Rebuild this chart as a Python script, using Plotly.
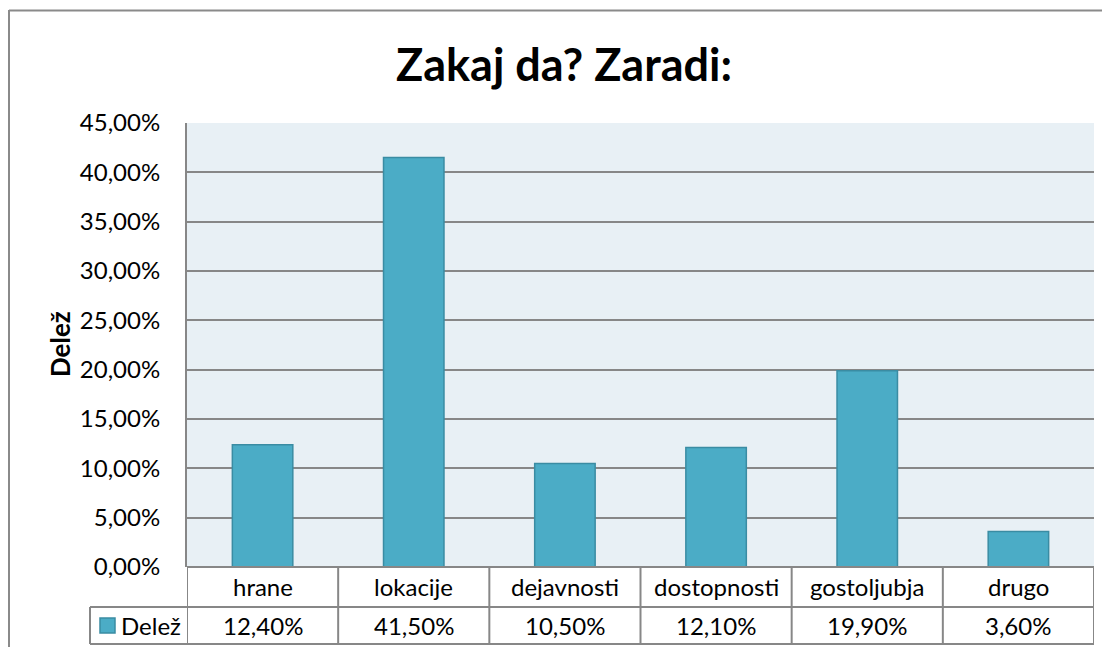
import plotly.graph_objects as go

categories = ["hrane", "lokacije", "dejavnosti", "dostopnosti", "gostoljubja", "drugo"]
values = [0.124, 0.415, 0.105, 0.121, 0.199, 0.036]
series_name = "Delež"
title_text = "Zakaj da? Zaradi:"
y_ticks = [0.0, 0.05, 0.10, 0.15, 0.20, 0.25, 0.30, 0.35, 0.40, 0.45]

FONT = "Lato"
GRID = "#878787"
BAR_FILL = "#4BACC6"
BAR_LINE = "#3A8CA3"
OFF = 8  # page body margin
W, H = 1110 - 2 * OFF, 655 - 2 * OFF
# plot area in page pixels: x 187..1094, y 123..567
L = 187 - OFF
T = 123 - OFF
R = W - (1094 - OFF)
B = H - (567 - OFF)
pw, ph = W - L - R, H - T - B

def px_x(p):  # page pixel x -> paper
    return (p - OFF - L) / pw

def px_y(p):  # page pixel y -> paper
    return (H - B - (p - OFF)) / ph

def pct(v):
    return f"{v*100:.2f}".replace(".", ",") + "%"

fig = go.Figure()
fig.add_trace(go.Bar(
    x=categories, y=values, name=series_name,
    marker=dict(color=BAR_FILL, line=dict(color=BAR_LINE, width=1.5)),
    width=0.4, showlegend=False,
))

ROW_SPLIT = 607
TABLE_BOTTOM = 644
shapes = []
n = len(categories)
# table horizontal lines
for py in (ROW_SPLIT, TABLE_BOTTOM):
    shapes.append(dict(type="line", xref="paper", yref="paper",
                       x0=px_x(90), x1=1, y0=px_y(py), y1=px_y(py),
                       line=dict(color=GRID, width=2)))
shapes.append(dict(type="line", xref="paper", yref="paper",
                   x0=0, x1=1, y0=0, y1=0, line=dict(color=GRID, width=2)))
# table vertical lines
for i in range(n + 1):
    shapes.append(dict(type="line", xref="x", yref="paper",
                       x0=i - 0.5, x1=i - 0.5, y0=0, y1=px_y(TABLE_BOTTOM),
                       line=dict(color=GRID, width=2)))
shapes.append(dict(type="line", xref="paper", yref="paper",
                   x0=px_x(90), x1=px_x(90), y0=px_y(ROW_SPLIT), y1=px_y(TABLE_BOTTOM),
                   line=dict(color=GRID, width=2)))
# legend key square
shapes.append(dict(type="rect", xref="paper", yref="paper",
                   x0=px_x(100), x1=px_x(115), y0=px_y(618), y1=px_y(633),
                   fillcolor=BAR_FILL, line=dict(color=BAR_LINE, width=1.5)))
# outer chart border (cropped on right and bottom)
shapes.append(dict(type="line", xref="paper", yref="paper",
                   x0=px_x(9), x1=px_x(9), y0=px_y(10), y1=px_y(700),
                   line=dict(color="#8a8a8a", width=2)))
shapes.append(dict(type="line", xref="paper", yref="paper",
                   x0=px_x(9), x1=px_x(1200), y0=px_y(10.5), y1=px_y(10.5),
                   line=dict(color="#8a8a8a", width=2)))

ROW2_MID = (ROW_SPLIT + TABLE_BOTTOM) / 2
annotations = []
for c, v in zip(categories, values):
    annotations.append(dict(x=c, xref="x", y=px_y(586), yref="paper",
                            text=c, showarrow=False, yanchor="middle",
                            font=dict(family=FONT, size=24, color="black")))
    annotations.append(dict(x=c, xref="x", y=px_y(ROW2_MID), yref="paper",
                            text=pct(v), showarrow=False, yanchor="middle",
                            font=dict(family=FONT, size=24, color="black")))
annotations.append(dict(x=px_x(119), xref="paper", y=px_y(ROW2_MID), yref="paper",
                        text=series_name, showarrow=False,
                        xanchor="left", yanchor="middle",
                        font=dict(family=FONT, size=24, color="black")))
annotations.append(dict(x=px_x(60), xref="paper", y=px_y(344), yref="paper",
                        text=f"<b>{series_name}</b>", textangle=-90, showarrow=False,
                        xanchor="center", yanchor="middle",
                        font=dict(family=FONT, size=26, color="black")))
annotations.append(dict(x=px_x(564), xref="paper", y=px_y(64), yref="paper",
                        text=f"<b>{title_text}</b>", showarrow=False,
                        xanchor="center", yanchor="middle",
                        font=dict(family=FONT, size=45, color="black")))

fig.update_layout(
    width=W, height=H,
    margin=dict(l=L, r=R, t=T, b=B),
    paper_bgcolor="white", plot_bgcolor="#E8F0F5",
    separators=",.",
    font=dict(family=FONT, size=24, color="black"),
    xaxis=dict(showticklabels=False, showgrid=False, zeroline=False,
               range=[-0.5, n - 0.5], fixedrange=True),
    yaxis=dict(range=[0, 0.45], tickvals=y_ticks, tickformat=".2%",
               showgrid=True, gridcolor=GRID, gridwidth=1.5,
               zeroline=False, showline=True, linecolor=GRID, linewidth=2,
               ticks="", ticklen=0, ticklabelstandoff=20,
               tickfont=dict(family=FONT, size=24), fixedrange=True),
    showlegend=False,
    shapes=shapes, annotations=annotations,
)

fig.write_html("out.html")
